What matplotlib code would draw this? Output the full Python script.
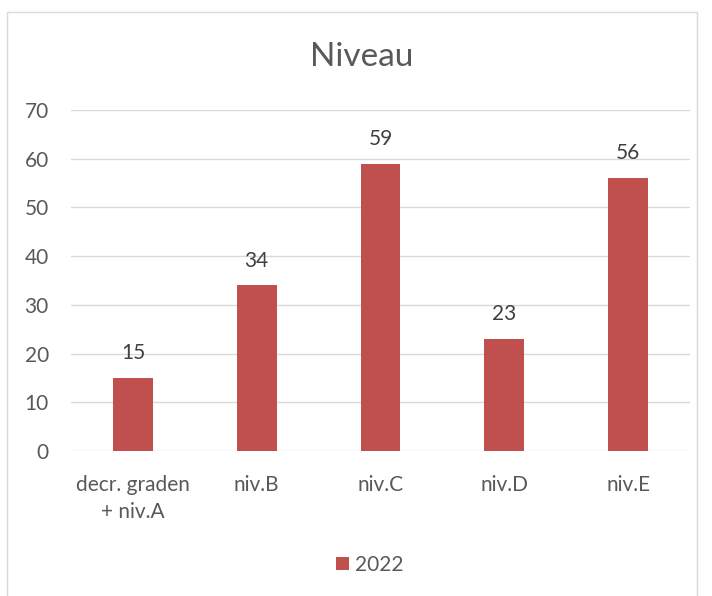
import matplotlib.pyplot as plt
from matplotlib.patches import Rectangle

categories = ['decr. graden\n+ niv.A', 'niv.B', 'niv.C', 'niv.D', 'niv.E']
values_2022 = [15, 34, 59, 23, 56]
yticks = [0, 10, 20, 30, 40, 50, 60, 70]

text_col = '#595959'
bar_col = '#C0504D'
grid_col = '#D9D9D9'
fs = 15

plt.rcParams['font.family'] = ['Lato', 'DejaVu Sans']

fig = plt.figure(figsize=(7.12, 5.96), dpi=100)
# chart border like excel
fig.patches.append(Rectangle((7 / 712, -0.01), 690 / 712, 1 - 12 / 596 + 0.01,
                             transform=fig.transFigure, fill=False,
                             edgecolor='#D9D9D9', linewidth=1))

ax = fig.add_axes([71 / 712, 1 - 451 / 596, 619 / 712, 341 / 596])
x = range(len(categories))
bars = ax.bar(x, values_2022, width=0.32, color=bar_col, label='2022', zorder=3)

for b, v in zip(bars, values_2022):
    ax.text(b.get_x() + b.get_width() / 2, v + 5.1, str(v), ha='center', va='center',
            fontsize=fs, color='#404040')

ax.set_xlim(-0.5, len(categories) - 0.5)
ax.set_ylim(0, 70)
ax.set_yticks(yticks)
ax.set_xticks(list(x))
ax.set_xticklabels(categories, fontsize=fs, color=text_col, linespacing=1.45)
ax.tick_params(axis='y', labelsize=fs, labelcolor=text_col, length=0, pad=16)
ax.tick_params(axis='x', length=0, pad=17)
ax.grid(axis='y', color=grid_col, linewidth=1, zorder=0)
for s in ax.spines.values():
    s.set_visible(False)

fig.text(362 / 712, 1 - 57 / 596, 'Niveau', ha='center', va='center', fontsize=24, color=text_col)

leg = fig.legend(handles=[bars], labels=['2022'], loc='center', bbox_to_anchor=(370 / 712, 1 - 565 / 596),
                 frameon=False, fontsize=fs, handlelength=0.6, handleheight=0.6, handletextpad=0.3)
for t in leg.get_texts():
    t.set_color(text_col)

plt.savefig('out.png', dpi=100)
